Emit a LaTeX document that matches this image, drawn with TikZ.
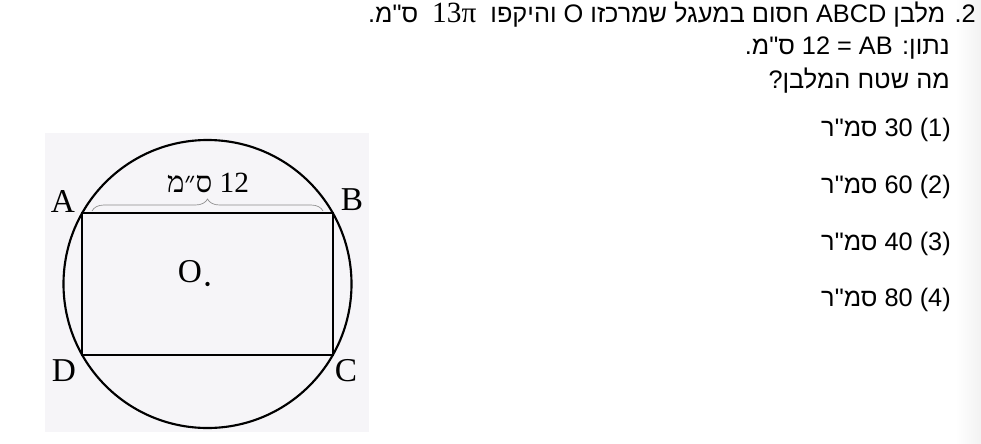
\documentclass[tikz,border=0pt]{standalone}
\usepackage{fontspec}
\usepackage{tikz}
\usepackage{xcolor}
\usetikzlibrary{decorations.pathreplacing}
\setmainfont{Liberation Serif}
\newfontfamily\hebfont[Script=Hebrew]{Liberation Sans}
\newfontfamily\hebserif[Script=Hebrew]{Liberation Serif}
\TeXXeTstate=1
\definecolor{panel}{RGB}{246,245,248}
\tikzstyle{vertex}=[inner sep=0pt, font=\fontsize{25}{25}\selectfont]
\tikzstyle{side}=[draw, line width=2pt, black]
\tikzstyle{ring}=[draw, line width=1.6pt, black]
\tikzstyle{bracket}=[draw, gray!90, line width=.5pt, decorate, decoration={brace, amplitude=9pt}]
\tikzstyle{textline}=[anchor=base east, inner sep=0pt, font=\hebfont\fontsize{19}{22}\selectfont]

\begin{document}
\begin{tikzpicture}[x=0.75pt, y=-0.75pt]

	\useasboundingbox (0,0) rectangle (981,443);
	\fill[left color=white, right color=gray!10] (955,0) rectangle (981,443);

	% question text
	\node[textline] (q_1) at (976,22) {\beginR 2\kern0pt. מלבן \beginL ABCD\endL{} חסום במעגל שמרכזו \beginL O\endL{} והיקפו\ \ {\rmfamily\fontsize{22}{22}\selectfont 13π}\ \ ס"מ\kern0pt.\endR};
	\node[textline] (q_2) at (950,54) {\beginR נתון\kern0pt: \beginL AB\endL{} = 12 ס"מ\kern0pt.\endR};
	\node[textline] (q_3) at (950,88) {\beginR מה שטח המלבן\kern0pt?\endR};

	\foreach \num/\val/\y in {1/30/136, 2/60/193, 3/40/250, 4/80/306}{
		\node[textline] (opt_\num) at (951,\y) {\beginR\beginL(\num)\endL{} \val{} סמ"ר\endR};
	}

	% figure
	\fill[panel] (45,133) rectangle (369,432);

	\coordinate (O) at (207.5,284);
	\coordinate (A) at (82,213);
	\coordinate (B) at (333,213);
	\coordinate (C) at (333,355);
	\coordinate (D) at (82,355);

	\draw[ring] (O) circle [radius=108pt];
	\draw[side] (A) -- (B) -- (C) -- (D) -- cycle;
	\fill (O) circle [radius=1.6pt];

	\node[vertex] (l_A) at (63,201) {A};
	\node[vertex] (l_B) at (352,200) {B};
	\node[vertex] (l_C) at (346,371) {C};
	\node[vertex] (l_D) at (64,371) {D};
	\node[vertex] (l_O) at (190,272) {O};

	\coordinate (br_l) at (92,211);
	\coordinate (br_r) at (323,211);
	\draw[bracket] (br_l) -- (br_r);
	\node[inner sep=0pt] (len) at (208,183) {\hebserif\fontsize{22}{22}\selectfont\beginR 12 ס״מ\endR};

\end{tikzpicture}
\end{document}
